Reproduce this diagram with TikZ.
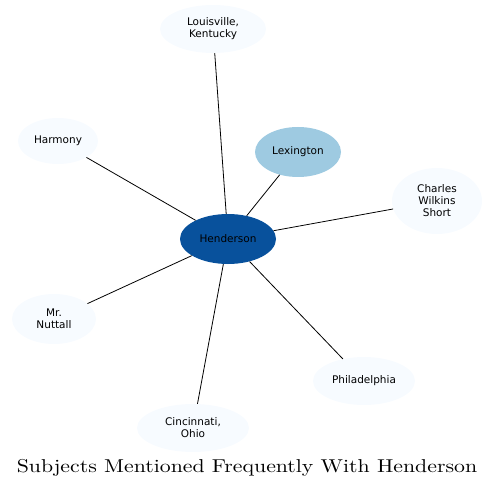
\documentclass[tikz,border=0pt]{standalone}
\usepackage{fontspec}
\usepackage{xcolor}
\usepackage{graphicx}
\usepackage{tikz}
\usetikzlibrary{shapes.geometric}
\newfontfamily\nodefont{DejaVu Sans}
\definecolor{hubblue}{HTML}{08519C}
\definecolor{nearblue}{HTML}{9ECAE1}
\definecolor{paleblue}{HTML}{F7FBFF}

\begin{document}
\begin{tikzpicture}[
    x=1pt, y=-1pt,
    subject/.style={
        ellipse, draw=none,
        fill=paleblue,
        inner sep=0pt,
        minimum width=96pt, minimum height=48pt,
        align=center,
        font=\nodefont\fontsize{10.5pt}{12pt}\selectfont
    },
    hub/.style={subject, fill=hubblue},
    near/.style={subject, fill=nearblue},
    link/.style={line width=0.8pt, black},
]
\useasboundingbox (0,0) rectangle (495,489);

% ---------- Central subject ----------
\node[hub, minimum width=96pt, minimum height=50pt] (henderson) at (228,239) {Henderson};

% ---------- Related subjects ----------
\node[subject, minimum width=106pt] (louisville) at (213,29) {Louisville,\\Kentucky};
\node[subject, minimum width=80pt, minimum height=46pt] (harmony) at (58,141) {Harmony};
\node[near, minimum width=86pt, minimum height=50pt] (lexington) at (298,152) {Lexington};
\node[subject, minimum width=90pt, minimum height=66pt] (short) at (437,201) {Charles\\Wilkins\\Short};
\node[subject, minimum width=84pt, minimum height=50pt] (nuttall) at (54,319) {Mr.\\Nuttall};
\node[subject, minimum width=102pt] (philadelphia) at (364,381) {Philadelphia};
\node[subject, minimum width=112pt] (cincinnati) at (193,428) {Cincinnati,\\Ohio};

% ---------- Title ----------
\node[anchor=base, inner sep=0pt] (title) at (247,472) {\scalebox{2.18}[1.86]{\fontsize{10pt}{12pt}\selectfont Subjects Mentioned Frequently With Henderson}};

% ---------- Links ----------
\foreach \other in {louisville, harmony, lexington, short, nuttall, philadelphia, cincinnati}
    \draw[link] (henderson) -- (\other);

\end{tikzpicture}
\end{document}
